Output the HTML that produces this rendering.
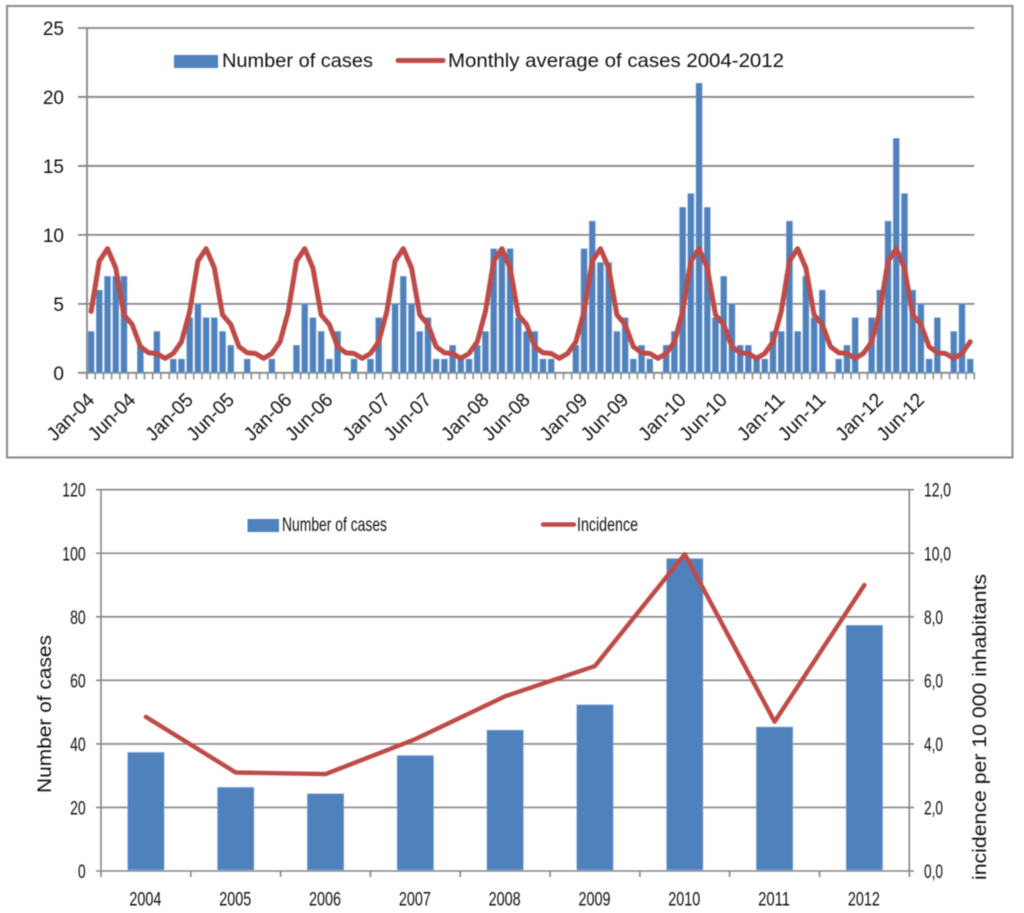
<!DOCTYPE html>
<html>
<head>
<meta charset="utf-8">
<title>Cases and incidence 2004-2012</title>
<style>
html,body{margin:0;padding:0;background:#fff;width:1024px;height:913px;overflow:hidden}
svg{display:block;filter:blur(0.4px)}
text{font-family:"Liberation Sans",sans-serif;fill:#111}
</style>
</head>
<body>
<svg id="root" width="1024" height="913" viewBox="0 0 1024 913" xmlns="http://www.w3.org/2000/svg">
<rect width="1024" height="913" fill="#fff"/>
<rect x="7" y="6" width="1005.5" height="451.5" fill="none" stroke="#8a8a8a" stroke-width="2"/>
<g id="monthly"></g>
<g id="annual"></g>
<rect x="174" y="55" width="44" height="13" fill="#4f81bd"/>
<text x="222" y="67" font-size="19.5" textLength="151" lengthAdjust="spacingAndGlyphs">Number of cases</text>
<line x1="398" y1="60.5" x2="443" y2="60.5" stroke="#be4b48" stroke-width="5" stroke-linecap="round"/>
<text x="448" y="67" font-size="19.5" textLength="336" lengthAdjust="spacingAndGlyphs">Monthly average of cases 2004-2012</text>
<rect x="247.5" y="519" width="31.5" height="13" fill="#4f81bd"/>
<text x="282" y="531" font-size="19" textLength="105" lengthAdjust="spacingAndGlyphs">Number of cases</text>
<line x1="543" y1="524.5" x2="574" y2="524.5" stroke="#be4b48" stroke-width="4.4" stroke-linecap="round"/>
<text x="577" y="531" font-size="19" textLength="61" lengthAdjust="spacingAndGlyphs">Incidence</text>
<text transform="translate(51 793) rotate(-90)" font-size="19" textLength="158" lengthAdjust="spacingAndGlyphs">Number of cases</text>
<text transform="translate(986 880) rotate(-90)" font-size="19" textLength="306" lengthAdjust="spacingAndGlyphs">incidence per 10 000 inhabitants</text>
</svg>
<script>
// ---- Monthly chart data ----
var monthlyCases = [
  3,6,7,7,7,0,2,0,3,0,1,1,
  4,5,4,4,3,2,0,1,0,0,1,0,
  0,2,5,4,3,1,3,0,1,0,1,4,
  0,5,7,5,3,4,1,1,2,1,1,2,
  3,9,9,9,4,3,3,1,1,0,0,2,
  9,11,8,8,3,4,1,2,1,0,2,3,
  12,13,21,12,4,7,5,2,2,1,1,3,
  3,11,3,7,4,6,0,1,2,4,0,4,
  6,11,17,13,6,5,1,4,0,3,5,1
];
var monthlyAverage = [
  4.45,8.1,9,7.6,4.2,3.5,1.9,1.45,1.4,1.05,1.4,2.25,
  4.45,8.1,9,7.6,4.2,3.5,1.9,1.45,1.4,1.05,1.4,2.25,
  4.45,8.1,9,7.6,4.2,3.5,1.9,1.45,1.4,1.05,1.4,2.25,
  4.45,8.1,9,7.6,4.2,3.5,1.9,1.45,1.4,1.05,1.4,2.25,
  4.45,8.1,9,7.6,4.2,3.5,1.9,1.45,1.4,1.05,1.4,2.25,
  4.45,8.1,9,7.6,4.2,3.5,1.9,1.45,1.4,1.05,1.4,2.25,
  4.45,8.1,9,7.6,4.2,3.5,1.9,1.45,1.4,1.05,1.4,2.25,
  4.45,8.1,9,7.6,4.2,3.5,1.9,1.45,1.4,1.05,1.4,2.25,
  4.45,8.1,9,7.6,4.2,3.5,1.9,1.45,1.4,1.05,1.4,2.25
];
var monthlyLabels = [
  "Jan-04","","","","","Jun-04","","","","","","",
  "Jan-05","","","","","Jun-05","","","","","","",
  "Jan-06","","","","","Jun-06","","","","","","",
  "Jan-07","","","","","Jun-07","","","","","","",
  "Jan-08","","","","","Jun-08","","","","","","",
  "Jan-09","","","","","Jun-09","","","","","","",
  "Jan-10","","","","","Jun-10","","","","","","",
  "Jan-11","","","","","Jun-11","","","","","","",
  "Jan-12","","","","","Jun-12","","","","","",""
];
var monthlyTicks = ["0","5","10","15","20","25"];

// ---- Annual chart data ----
var years = ["2004","2005","2006","2007","2008","2009","2010","2011","2012"];
var annualCases = [37,26,24,36,44,52,98,45,77];
var annualIncidence = [4.85,3.1,3.05,4.15,5.5,6.45,9.97,4.7,9.0];
var casesTicks = ["0","20","40","60","80","100","120"];
var incidenceTicks = ["0,0","2,0","4,0","6,0","8,0","10,0","12,0"];

var NS = "http://www.w3.org/2000/svg";
var GRID = "#868686", BLUE = "#4f81bd", EDGE = "#8fb2da", RED = "#be4b48";

function make(tag, attrs, parent, txt) {
  var e = document.createElementNS(NS, tag);
  for (var k in attrs) e.setAttribute(k, attrs[k]);
  if (txt !== undefined) e.textContent = txt;
  parent.appendChild(e);
  return e;
}

// ---------- monthly chart ----------
(function () {
  var g = document.getElementById("monthly");
  var x0 = 87, x1 = 974.3, y0 = 372.8, y1 = 28;
  var step = (x1 - x0) / monthlyCases.length;
  var yMax = 25;
  function xBand(i) { return x0 + step * (i + 0.5); }
  function y(v) { return y0 - (y0 - y1) * v / yMax; }

  monthlyTicks.forEach(function (t) {
    var v = parseFloat(t);
    var gl = make("line", {x1: 78, x2: x1, y1: y(v), y2: y(v), stroke: GRID, "stroke-width": 1.8}, g);
    
    
    var lb = make("text", {x: 64, y: y(v) + 7, "text-anchor": "end", "font-size": 19}, g, t);
    
    
  });

  var ax = make("line", {x1: x0, x2: x0, y1: y1, y2: y0 + 6, stroke: GRID, "stroke-width": 1.8}, g);
  
  

  for (var i = 0; i <= monthlyCases.length; i++) {
    var tk = make("line", {x1: x0 + step * i, x2: x0 + step * i, y1: y0, y2: y0 + 6.5, stroke: GRID, "stroke-width": 1.5}, g);
    
    
  }

  monthlyCases.forEach(function (v, i) {
    if (!v) return;
    var b = make("rect", {x: xBand(i) - 3.1, y: y(v), width: 6.2, height: y0 - y(v), fill: BLUE, stroke: EDGE, "stroke-width": 0.5}, g);
    
    
  });

  var pts = monthlyAverage.map(function (v, i) { return xBand(i).toFixed(2) + "," + y(v).toFixed(2); }).join(" ");
  var ln = make("polyline", {points: pts, fill: "none", stroke: RED, "stroke-width": 5, "stroke-linejoin": "round", "stroke-linecap": "round"}, g);
  
  

  monthlyLabels.forEach(function (t, i) {
    if (!t) return;
    var px = xBand(i) + 4.5, py = 401;
    var lb = make("text", {transform: "translate(" + px + " " + py + ") rotate(-45)", "text-anchor": "end", "font-size": 19.5, textLength: 58, lengthAdjust: "spacingAndGlyphs"}, g, t);
    
    
  });
})();

// ---------- annual chart ----------
(function () {
  var g = document.getElementById("annual");
  var x0 = 101, x1 = 909.3, y0 = 871, y1 = 489.7;
  var step = (x1 - x0) / years.length;
  function xBand(i) { return x0 + step * (i + 0.5); }
  function yL(v) { return y0 - (y0 - y1) * v / 120; }
  function yR(v) { return y0 - (y0 - y1) * v / 12; }

  casesTicks.forEach(function (t, i) {
    var v = parseFloat(t);
    var gl = make("line", {x1: 96, x2: 914, y1: yL(v), y2: yL(v), stroke: GRID, "stroke-width": 1.6}, g);
    
    
    var lb = make("text", {x: 85.7, y: yL(v) + 7, "text-anchor": "end", "font-size": 19.5, textLength: 7.8 * t.length, lengthAdjust: "spacingAndGlyphs"}, g, t);
    
    
  });

  incidenceTicks.forEach(function (t) {
    var v = parseFloat(t.replace(",", "."));
    var lb = make("text", {x: 924, y: yR(v) + 7, "font-size": 19.5, textLength: t.length === 3 ? 19 : 27, lengthAdjust: "spacingAndGlyphs"}, g, t);
    
    
  });

  var al = make("line", {x1: x0, x2: x0, y1: y1, y2: y0 + 6, stroke: GRID, "stroke-width": 1.6}, g);
  
  
  var ar = make("line", {x1: x1, x2: x1, y1: y1, y2: y0 + 6, stroke: GRID, "stroke-width": 1.6}, g);
  
  

  for (var i = 1; i < years.length; i++) {
    var tk = make("line", {x1: x0 + step * i, x2: x0 + step * i, y1: y0, y2: y0 + 6, stroke: GRID, "stroke-width": 1.6}, g);
    
    
  }

  annualCases.forEach(function (v, i) {
    var b = make("rect", {x: xBand(i) - 18.2, y: yL(v) - 1, width: 36.4, height: y0 - yL(v), fill: BLUE, stroke: EDGE, "stroke-width": 0.6}, g);
    
    
  });

  var pts = annualIncidence.map(function (v, i) { return xBand(i).toFixed(2) + "," + yR(v).toFixed(2); }).join(" ");
  var ln = make("polyline", {points: pts, fill: "none", stroke: RED, "stroke-width": 4.4, "stroke-linejoin": "round", "stroke-linecap": "round"}, g);
  
  

  years.forEach(function (t, i) {
    var lb = make("text", {x: xBand(i) - 0.5, y: 905.5, "text-anchor": "middle", "font-size": 19, textLength: 32, lengthAdjust: "spacingAndGlyphs"}, g, t);
    
    
  });
})();
</script>
</body>
</html>
